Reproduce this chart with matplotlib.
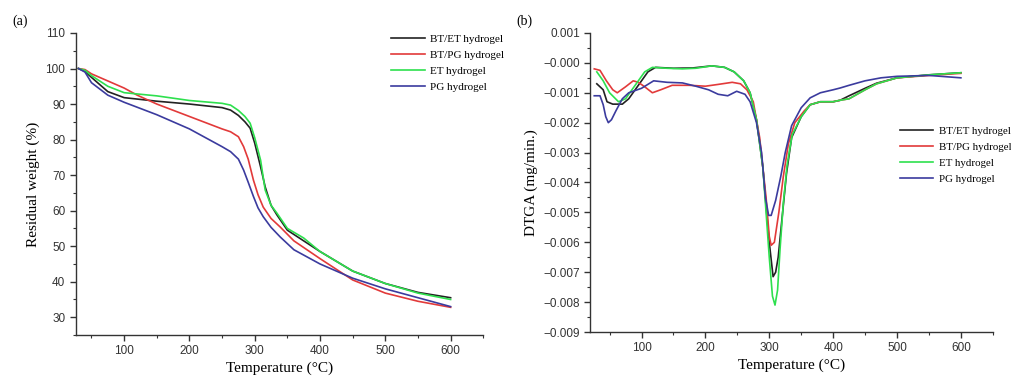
import numpy as np
import matplotlib
matplotlib.use("Agg")
import matplotlib.pyplot as plt
from matplotlib.ticker import MultipleLocator, FuncFormatter

# ---- DATA : residual weight (%) -- panel (a)
t_btet = [30, 40, 50, 75, 100, 150, 200, 250, 263, 275, 285, 293, 300, 309, 316, 325, 334, 350, 375, 400, 450, 500, 550, 600]
w_btet = [100, 99.2, 97.5, 93.5, 91.8, 90.8, 90.0, 89.0, 88.3, 86.8, 85.0, 83.2, 79.0, 72.3, 66.7, 61.5, 58.8, 54.5, 51.5, 48.5, 43.0, 39.5, 37.0, 35.5]

t_et = [30, 40, 50, 75, 100, 150, 200, 250, 263, 275, 285, 293, 300, 309, 316, 325, 334, 350, 375, 400, 450, 500, 550, 600]
w_et = [100, 99.5, 98.0, 95.0, 93.2, 92.3, 91.0, 90.2, 89.7, 88.2, 86.5, 84.6, 80.5, 74.2, 65.8, 61.5, 59.3, 55.0, 52.3, 48.5, 43.0, 39.5, 36.8, 35.0]

t_btpg = [30, 40, 50, 75, 100, 120, 150, 200, 250, 263, 275, 283, 290, 298, 305, 313, 325, 339, 360, 400, 450, 500, 550, 600]
w_btpg = [100, 99.7, 98.5, 96.5, 94.5, 92.5, 90.0, 86.5, 83.0, 82.2, 80.8, 78.0, 74.5, 68.6, 64.5, 61.0, 57.8, 55.4, 51.5, 46.5, 40.5, 36.8, 34.5, 32.8]

t_pg = [30, 40, 50, 75, 100, 150, 200, 250, 263, 275, 283, 290, 298, 305, 313, 325, 339, 360, 400, 450, 500, 550, 600]
w_pg = [100, 99.0, 96.0, 92.5, 90.5, 87.0, 83.0, 78.0, 76.6, 74.5, 71.4, 68.0, 64.0, 60.8, 58.3, 55.3, 52.6, 49.0, 45.0, 41.0, 38.0, 35.5, 33.0]

# ---- DATA : DTGA (mg/min.) -- panel (b)
d_t_btet = [30, 40, 46, 55, 70, 80, 90, 100, 110, 122, 150, 180, 210, 230, 245, 260, 270, 280, 290, 295, 300, 306, 310, 314, 320, 327, 335, 350, 364, 380, 400, 411, 425, 450, 468, 500, 550, 600]
d_btet = [-0.0007, -0.0009, -0.0013, -0.00138, -0.00138, -0.0012, -0.0009, -0.0006, -0.0003, -0.00015, -0.00018, -0.00017, -0.0001, -0.00015, -0.0003, -0.0006, -0.001, -0.0019, -0.0035, -0.0048, -0.006, -0.00715, -0.007, -0.0065, -0.0052, -0.0037, -0.0025, -0.0018, -0.0014, -0.0013, -0.0013, -0.00125, -0.0011, -0.00085, -0.00068, -0.0005, -0.0004, -0.00033]

d_t_et = [30, 40, 50, 64, 75, 85, 95, 105, 117, 140, 164, 185, 210, 230, 245, 260, 270, 280, 290, 300, 305, 309, 313, 317, 322, 328, 336, 350, 364, 380, 400, 411, 425, 450, 468, 500, 550, 600]
d_et = [-0.0003, -0.0006, -0.001, -0.0013, -0.0012, -0.0009, -0.0006, -0.0003, -0.00015, -0.00018, -0.0002, -0.00018, -0.0001, -0.00015, -0.0003, -0.0006, -0.001, -0.0019, -0.0035, -0.0065, -0.0078, -0.0081, -0.0076, -0.0062, -0.0047, -0.0034, -0.0024, -0.0018, -0.0014, -0.0013, -0.0013, -0.00125, -0.0012, -0.0009, -0.0007, -0.0005, -0.0004, -0.00033]

d_t_btpg = [26, 35, 45, 55, 62, 75, 87, 95, 105, 117, 130, 148, 175, 200, 220, 242, 255, 265, 275, 285, 295, 300, 303, 308, 315, 322, 330, 340, 355, 364, 380, 400, 411, 425, 450, 468, 500, 550, 600]
d_btpg = [-0.0002, -0.00025, -0.0006, -0.0009, -0.001, -0.0008, -0.0006, -0.00065, -0.0008, -0.001, -0.0009, -0.00075, -0.00075, -0.00078, -0.00072, -0.00065, -0.0007, -0.0009, -0.0013, -0.0025, -0.0045, -0.0058, -0.0061, -0.006, -0.005, -0.0038, -0.0027, -0.002, -0.0016, -0.0014, -0.0013, -0.0013, -0.00125, -0.0012, -0.0009, -0.0007, -0.0005, -0.00042, -0.00035]

d_t_pg = [26, 35, 40, 44, 48, 53, 60, 70, 80, 100, 119, 140, 164, 185, 205, 220, 235, 249, 262, 270, 280, 288, 294, 299, 303, 310, 318, 325, 335, 350, 364, 380, 400, 411, 425, 450, 475, 500, 550, 600]
d_pg = [-0.0011, -0.0011, -0.0014, -0.0018, -0.002, -0.0019, -0.0016, -0.0012, -0.001, -0.00085, -0.0006, -0.00065, -0.00067, -0.00078, -0.0009, -0.00105, -0.0011, -0.00095, -0.00105, -0.0013, -0.002, -0.003, -0.0045, -0.0051, -0.0051, -0.0046, -0.0038, -0.003, -0.0021, -0.0015, -0.00117, -0.001, -0.0009, -0.00084, -0.00075, -0.0006, -0.0005, -0.00045, -0.00042, -0.0005]

labels = ["BT/ET hydrogel", "BT/PG hydrogel", "ET hydrogel", "PG hydrogel"]
colors = ["#222222", "#e23a3a", "#2ee04e", "#3b3b9e"]

SERIF = "Liberation Serif"
SANS = "Liberation Sans"

fig = plt.figure(figsize=(10.11, 3.79), dpi=100)
axA = fig.add_axes([0.075, 0.116, 0.403, 0.797])
axB = fig.add_axes([0.584, 0.124, 0.398, 0.789])


def style(ax):
    for s in ["top", "right"]:
        ax.spines[s].set_visible(False)
    for s in ["left", "bottom"]:
        ax.spines[s].set_color("#333333")
        ax.spines[s].set_linewidth(1.0)
    ax.tick_params(which="major", direction="out", length=4, width=1, colors="#333333",
                   labelsize=8.5, labelcolor="#333333")
    ax.tick_params(which="minor", direction="out", length=2.5, width=0.8, colors="#333333")
    for lab in ax.get_xticklabels() + ax.get_yticklabels():
        lab.set_family(SANS)
    ax.xaxis.set_major_locator(MultipleLocator(100))
    ax.xaxis.set_minor_locator(MultipleLocator(50))
    ax.set_xlabel("Temperature (°C)", family=SERIF, fontsize=11, labelpad=3)


# ---- panel (a)
lw = 1.2
axA.plot(t_btet, w_btet, color=colors[0], lw=lw, label=labels[0])
axA.plot(t_btpg, w_btpg, color=colors[1], lw=lw, label=labels[1])
axA.plot(t_et, w_et, color=colors[2], lw=lw, label=labels[2])
axA.plot(t_pg, w_pg, color=colors[3], lw=lw, label=labels[3])
axA.set_xlim(26, 650)
axA.set_ylim(25, 110)
axA.yaxis.set_major_locator(MultipleLocator(10))
axA.yaxis.set_minor_locator(MultipleLocator(5))
axA.set_yticks(np.arange(30, 111, 10))
style(axA)
axA.set_ylabel("Residual weight (%)", family=SERIF, fontsize=11, labelpad=4)
axA.legend(loc="upper left", bbox_to_anchor=(387 / 1011, 1 - 30 / 379), bbox_transform=fig.transFigure,
           frameon=False, prop={"family": SERIF, "size": 8}, handlelength=3.0, handletextpad=0.5,
           labelspacing=0.55, borderaxespad=0)

# ---- panel (b)
axB.plot(d_t_btet, d_btet, color=colors[0], lw=lw, label=labels[0])
axB.plot(d_t_btpg, d_btpg, color=colors[1], lw=lw, label=labels[1])
axB.plot(d_t_et, d_et, color=colors[2], lw=lw, label=labels[2])
axB.plot(d_t_pg, d_pg, color=colors[3], lw=lw, label=labels[3])
axB.set_xlim(20, 650)
axB.set_ylim(-0.009, 0.001)
axB.yaxis.set_major_locator(MultipleLocator(0.001))
axB.yaxis.set_minor_locator(MultipleLocator(0.0005))
axB.yaxis.set_major_formatter(FuncFormatter(lambda v, p: ("%.3f" % v).replace("-", "\u2212")))
style(axB)
axB.set_ylabel("DTGA (mg/min.)", family=SERIF, fontsize=11, labelpad=4)
axB.legend(loc="upper left", bbox_to_anchor=(896 / 1011, 1 - 122 / 379), bbox_transform=fig.transFigure,
           frameon=False, prop={"family": SERIF, "size": 7.8}, handlelength=3.0, handletextpad=0.6,
           labelspacing=0.6, borderaxespad=0)

fig.text(12 / 1011, 1 - 21 / 379, "(a)", family=SERIF, fontsize=10, va="center", ha="left")
fig.text(516 / 1011, 1 - 21 / 379, "(b)", family=SERIF, fontsize=10, va="center", ha="left")

fig.savefig("out.png", dpi=100)
